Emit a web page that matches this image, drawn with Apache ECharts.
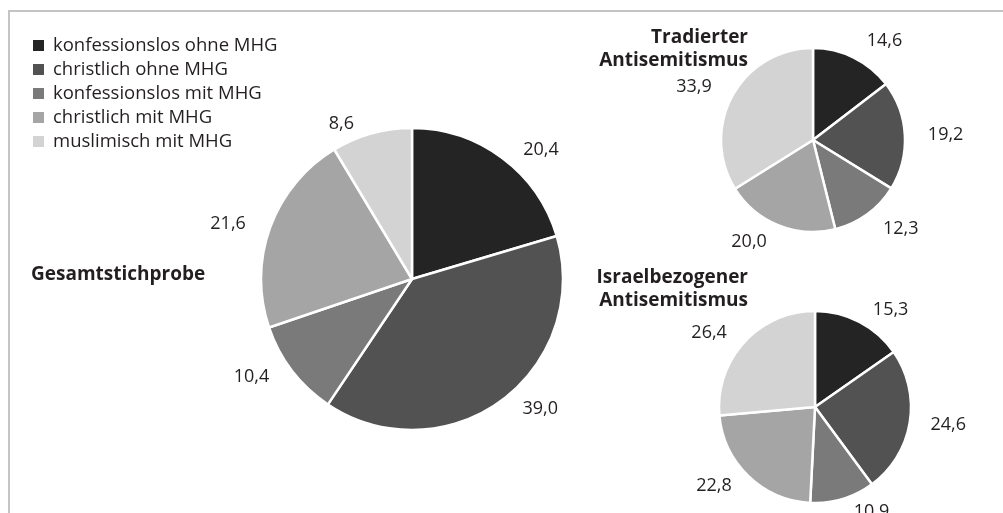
<!DOCTYPE html>
<html>
<head>
<meta charset="utf-8">
<script src="https://cdn.jsdelivr.net/npm/echarts@6/dist/echarts.min.js"></script>
<style>
  html, body { margin: 0; padding: 0; background: #fff; }
  #chart { width: 1003px; height: 513px; }
</style>
</head>
<body>
<div id="chart"></div>
<script>
const groups = ['konfessionslos ohne MHG', 'christlich ohne MHG', 'konfessionslos mit MHG', 'christlich mit MHG', 'muslimisch mit MHG']
const gesamt = [20.4, 39.0, 10.4, 21.6, 8.6]
const tradiert = [14.6, 19.2, 12.3, 20.0, 33.9]
const israel = [15.3, 24.6, 10.9, 22.8, 26.4]

const colors = ['#242424', '#525252', '#7a7a7a', '#a5a5a5', '#d3d3d3']
const font = '"Open Sans", "Noto Sans", sans-serif'
const ink = '#231f20'

const chart = echarts.init(document.getElementById('chart'))

function pie (values, center, radius, len, len2) {
  return {
    type: 'pie',
    center: center,
    radius: radius,
    startAngle: 90,
    clockwise: true,
    avoidLabelOverlap: false,
    silent: true,
    itemStyle: {
      borderColor: '#fff',
      borderWidth: 2.5
    },
    label: {
      show: true,
      position: 'outside',
      color: ink,
      fontFamily: font,
      fontSize: 18,
      formatter: p => p.value.toFixed(1).replace('.', ',')
    },
    labelLine: {
      show: false,
      length: len,
      length2: len2
    },
    emphasis: { disabled: true },
    data: groups.map((name, i) => ({ name: name, value: values[i] }))
  }
}

const titleStyle = { fontFamily: font, fontSize: 19, fontWeight: 'bold', color: ink, lineHeight: 23 }

const option = {
  animation: false,
  color: colors,
  textStyle: { fontFamily: font },
  title: [
    {
      text: 'Gesamtstichprobe',
      left: 26,
      top: 258,
      textStyle: titleStyle
    },
    {
      // textAlign right: anchor is the right edge of the lines
      text: 'Tradierter\nAntisemitismus',
      left: 743,
      top: 21,
      textAlign: 'right',
      textStyle: titleStyle
    },
    {
      text: 'Israelbezogener\nAntisemitismus',
      left: 743,
      top: 261,
      textAlign: 'right',
      textStyle: titleStyle
    }
  ],
  legend: {
    orient: 'vertical',
    left: 26,
    top: 31,
    icon: 'rect',
    itemWidth: 13,
    itemHeight: 13,
    itemGap: 5,
    selectedMode: false,
    textStyle: { fontFamily: font, fontSize: 18.5, color: ink, padding: [0, 0, 0, 3] },
    data: groups
  },
  graphic: [
    { type: 'line', shape: { x1: 9, y1: 11, x2: 1003, y2: 11 }, style: { stroke: '#c4c4c4', lineWidth: 2 } },
    { type: 'line', shape: { x1: 9, y1: 10, x2: 9, y2: 513 }, style: { stroke: '#c4c4c4', lineWidth: 2 } }
  ],
  series: [
    pie(gesamt, [412, 279], 151, 10, 10),
    pie(tradiert, [813, 140], 92, 18, 0),
    pie(israel, [815, 407], 96, 14, 2)
  ]
}

chart.setOption(option)
</script>
</body>
</html>
